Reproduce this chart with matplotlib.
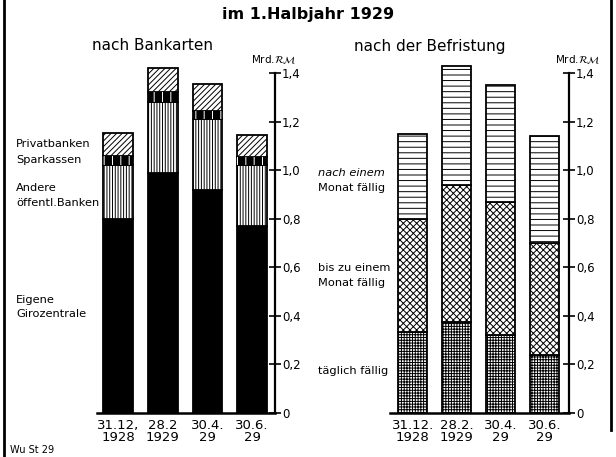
import numpy as np
import matplotlib.pyplot as plt
from matplotlib.lines import Line2D

plt.rcParams['font.family'] = ['DejaVu Sans']
plt.rcParams['hatch.linewidth'] = 0.7

# data (Mrd. RM)
dates_left = ["31.12,\n1928", "28.2\n1929", "30.4.\n29", "30.6.\n29"]
dates_right = ["31.12.\n1928", "28.2.\n1929", "30.4.\n29", "30.6.\n29"]

eigene = [0.80, 0.99, 0.92, 0.77]
andere = [0.22, 0.29, 0.29, 0.25]
sparkassen = [0.04, 0.04, 0.035, 0.035]
privat = [0.095, 0.10, 0.11, 0.09]

taeglich = [0.335, 0.375, 0.32, 0.24]
bis_monat = [0.465, 0.565, 0.55, 0.46]
nach_monat = [0.35, 0.49, 0.48, 0.44]

ticks = [0, 0.2, 0.4, 0.6, 0.8, 1.0, 1.2, 1.4]
tick_labels = ["0", "0,2", "0,4", "0,6", "0,8", "1,0", "1,2", "1,4"]

W, H = 616, 457
fig = plt.figure(figsize=(W / 100, H / 100), dpi=100)

px_per_unit = (413 - 73) / 1.4


def make_axes(x0, x1, xlim):
    bottom = (H - 413) / H
    height = 1.5 * px_per_unit / H
    ax = fig.add_axes([x0 / W, bottom, (x1 - x0) / W, height])
    ax.set_xlim(*xlim)
    ax.set_ylim(0, 1.5)
    ax.patch.set_alpha(0)
    for s in ['top', 'left']:
        ax.spines[s].set_visible(False)
    ax.spines['right'].set_linewidth(1.6)
    ax.spines['right'].set_bounds(0, 1.4)
    ax.spines['bottom'].set_linewidth(1.8)
    ax.yaxis.tick_right()
    ax.set_yticks(ticks)
    ax.set_yticklabels(tick_labels)
    ax.tick_params(axis='y', direction='inout', length=8, width=1.2,
                   labelsize=8.5, pad=1)
    ax.tick_params(axis='x', length=0, labelsize=9.5, pad=4)
    for t in ax.get_xticklabels():
        t.set_linespacing(0.9)
    return ax


def seg(ax, x, h, b, hatch=None, face='white', width=0.66):
    ax.bar(x, h, bottom=b, width=width, color=face, edgecolor='black',
           hatch=hatch, linewidth=1.3, zorder=2)


# left chart: nach Bankarten
axl = make_axes(97, 275, (-0.47, 3.51))
x = np.arange(4)
b = np.zeros(4)
seg(axl, x, eigene, b, face='black')
b = b + eigene
seg(axl, x, andere, b, hatch='||||||')
b = b + andere
seg(axl, x, sparkassen, b, face='black')
axl.bar(x, sparkassen, bottom=b, width=0.66, color='none', edgecolor='white',
        hatch='||', linewidth=0, zorder=3)
b = b + sparkassen
seg(axl, x, privat, b, hatch='//////')
axl.set_xticks(x)
axl.set_xticklabels(dates_left)

# right chart: nach der Befristung
axr = make_axes(390, 569, (-0.52, 3.55))
b = np.zeros(4)
seg(axr, x, taeglich, b, hatch='++++++')
b = b + taeglich
seg(axr, x, bis_monat, b, hatch='xxxxx')
b = b + bis_monat
seg(axr, x, nach_monat, b, hatch='---')
axr.set_xticks(x)
axr.set_xticklabels(dates_right)


def ftext(px, py, s, **kw):
    fig.text(px / W, 1 - py / H, s, **kw)


ftext(308, 15, "im 1.Halbjahr 1929", ha='center', va='center',
      fontsize=11.5, fontweight='bold')
ftext(152, 46, "nach Bankarten", ha='center', va='center', fontsize=11)
ftext(430, 46, "nach der Befristung", ha='center', va='center', fontsize=11)
ftext(274, 60, r"Mrd.$\mathcal{RM}$", ha='center', va='center', fontsize=7.5)
ftext(578, 60, r"Mrd.$\mathcal{RM}$", ha='center', va='center', fontsize=7.5)

lab = dict(ha='left', va='center', fontsize=8.2)
ftext(16, 144, "Privatbanken", **lab)
ftext(16, 160, "Sparkassen", **lab)
ftext(16, 188, "Andere", **lab)
ftext(16, 203, "öffentl.Banken", **lab)
ftext(16, 300, "Eigene", **lab)
ftext(16, 314, "Girozentrale", **lab)

ftext(318, 173, "nach einem", style='italic', **lab)
ftext(318, 188, "Monat fällig", **lab)
ftext(318, 268, "bis zu einem", **lab)
ftext(318, 283, "Monat fällig", **lab)
ftext(318, 371, "täglich fällig", **lab)

ftext(10, 450, "Wu St 29", ha='left', va='center', fontsize=7)

# frame lines at the sides
fig.add_artist(Line2D([4 / W, 4 / W], [0, 1], color='black', lw=2))
fig.add_artist(Line2D([611 / W, 611 / W], [1 - 430 / H, 1], color='black', lw=2))

fig.savefig("out.png", dpi=100)
